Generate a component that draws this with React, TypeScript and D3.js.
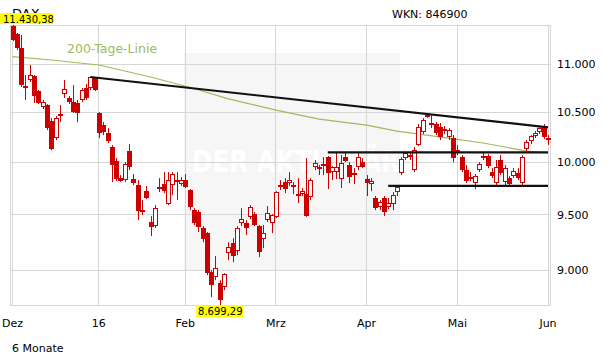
import React from "react";
import * as d3 from "d3";

// ---- data ----
const opens = [11419,11330,11176,10770,10833,10875,10718,10551,10572,10408,10237,10479,10686,10645,10603,10593,10624,10749,10749,10854,
10490,10368,10287,10147,10010,9845,9826,10108,9836,9778,9543,9721,9432,9395,9759,9788,9598,9778,9826,9788,
9826,9731,9543,9524,9377,9331,8982,8938,8886,8852,9151,9240,9169,9422,9422,9478,9506,9395,9276,9450,9422,
9478,9778,9807,9797,9759,9693,9693,9693,9664,9951,9951,9981,10049,9903,9903,9836,10049,9971,9893,9951,10000,
9836,9788,9655,9570,9655,9570,9598,9712,9893,10039,10069,9922,10167,10297,10469,10388,10378,10347,10327,10247,10237,
10117,10049,9922,9855,9797,9922,10059,10059,9903,9797,10020,9807,9845,9864,9893,9797,10127,10207,10257,10297,10347,
10237];
const highs = [11430.38,11342,11319,10886,10993,10886,10728,10624,10582,10439,10459,10572,10833,10665,10780,10624,10749,10791,10865,10865,
10500,10398,10337,10167,10039,9874,10000,10177,9884,9826,9636,9769,9487,9589,9845,9903,9903,9903,9903,9855,
9884,9740,9561,9543,9395,9340,9000,9124,8912,8974,9249,9285,9395,9561,9450,9589,9524,9404,9404,9580,9506,
9721,9826,9845,9903,9807,9845,9750,10039,9845,10020,9971,10049,10059,9961,10098,10069,10098,10000,9941,10098,10039,
9874,9845,9674,9636,9674,9655,9712,9778,10049,10098,10098,10147,10378,10439,10490,10469,10398,10388,10358,10337,10267,
10167,10069,9971,9903,9884,10000,10098,10078,9941,10020,10069,9971,9864,9941,9941,10069,10217,10267,10307,10347,10378,
10267];
const lows = [11253,11155,10759,10624,10812,10593,10582,10531,10317,10117,10217,10398,10645,10582,10490,10398,10603,10624,10728,10718,
10237,10267,10187,9807,9817,9807,9807,9922,9778,9450,9496,9645,9304,9377,9712,9702,9589,9683,9636,9769,
9750,9543,9404,9340,9249,8956,8766,8912,8699.29,8826,9088,9070,9133,9395,9313,9459,9395,9115,9195,9432,9331,
9469,9731,9702,9769,9693,9608,9674,9480,9636,9922,9874,9874,9740,9826,9836,9750,10000,9797,9788,9922,9941,
9674,9721,9543,9543,9487,9552,9543,9674,9874,10020,10020,9903,10157,10277,10439,10337,10267,10217,10277,10217,10000,
10069,9903,9797,9817,9740,9903,10020,9941,9845,9778,9874,9778,9769,9845,9826,9769,10108,10177,10237,10277,10227,
10167];
const closes = [11264,11176,10780,10749,10886,10665,10593,10603,10337,10127,10439,10459,10739,10603,10500,10490,10728,10645,10865,10728,
10287,10297,10207,9971,9836,9817,9981,9951,9797,9534,9524,9655,9386,9561,9750,9721,9826,9884,9817,9826,
9759,9570,9422,9386,9276,8974,8869,9018,8740,8965,9204,9124,9377,9459,9377,9570,9404,9160,9331,9515,9496,
9712,9759,9740,9826,9778,9674,9721,9487,9826,9990,9932,9961,9893,9951,9951,9990,10010,9855,9874,10049,9951,
9797,9817,9561,9617,9524,9608,9683,9759,10030,10088,10049,10117,10347,10418,10449,10368,10287,10247,10307,10317,10039,
10088,9922,9817,9836,9864,9981,10049,9961,9864,9951,9893,9941,9788,9913,9845,10049,10197,10257,10287,10337,10247,
10217];

// 200-day moving average (index, value)
const maIndex = [0, 9, 20, 32, 42, 50, 61, 71, 82, 89, 101, 109, 114, 119, 124];
const maValue = [11084, 11047, 10993, 10865, 10744, 10636, 10520, 10428, 10367, 10307, 10237, 10188, 10148, 10108, 10089];

// trend lines: [startIndex, startValue, endIndex, endValue]
const trendLines = [
  [18, 10865, 124, 10345],
  [73, 10095, 124, 10095],
  [87, 9770, 124, 9770],
];

const monthTickIndex = [0, 20, 40, 61, 82, 103, 124];
const monthTickLabel = ["Dez", "16", "Feb", "Mrz", "Apr", "Mai", "Jun"];
const yTicks = [9000, 9500, 10000, 10500, 11000];

const de = d3.formatLocale({ decimal: ",", thousands: ".", grouping: [3], currency: ["", "€"] });
const fmtInt = de.format(",.0f");
const fmt2 = de.format(",.2f");

const W = 611, H = 364;
const RED = "#cc0000";
const GRID = "#d6d6d6";
const FONT = "DejaVu Sans, Verdana, sans-serif";

export default function App() {
  const n = closes.length;
  const minLow = d3.min(lows) as number;
  const maxHigh = d3.max(highs) as number;
  const x = d3.scaleLinear().domain([0, n - 1]).range([12.5, 548]);
  const y = d3.scaleLog().domain([minLow, maxHigh]).range([305, 25]);
  const crisp = (v: number) => Math.floor(v) + 0.5;

  const maLine = d3.line<number>()
    .x((_, i) => x(maIndex[i]))
    .y((v) => y(v))(maValue) || "";

  const lowIdx = lows.indexOf(minLow);
  const highIdx = highs.indexOf(maxHigh);

  return (
    <svg width={W} height={H} style={{ position: "absolute", left: 0, top: 0, background: "#fff" }}
      fontFamily={FONT}>
      <defs>
        <clipPath id="wm">
          <rect x={184} y={53} width={216} height={217} />
        </clipPath>
      </defs>
      {/* watermark box */}
      <rect x={184} y={53} width={216} height={217} fill="#f6f6f6" />
      <g clipPath="url(#wm)">
        <text x={192} y={172} fontSize={30} fontWeight="bold" fill="#ffffff"
          textLength={208} lengthAdjust="spacingAndGlyphs">DER AKTIONÄR</text>
      </g>
      {/* grid */}
      {yTicks.map((t) => (
        <line key={"gy" + t} x1={10} x2={550} y1={crisp(y(t))} y2={crisp(y(t))} stroke={GRID} strokeWidth={1} />
      ))}
      {monthTickIndex.map((t) => (
        <line key={"gx" + t} x1={crisp(x(t))} x2={crisp(x(t))} y1={25} y2={305} stroke={GRID} strokeWidth={1} />
      ))}
      {/* frame */}
      <line x1={10} x2={551} y1={25.5} y2={25.5} stroke={GRID} />
      <line x1={10} x2={551} y1={305.5} y2={305.5} stroke={GRID} />
      <line x1={10.5} x2={10.5} y1={25} y2={306} stroke={GRID} />
      <line x1={12.5} x2={12.5} y1={25} y2={306} stroke={GRID} />
      <line x1={548.5} x2={548.5} y1={25} y2={306} stroke={GRID} />
      <line x1={550.5} x2={550.5} y1={25} y2={306} stroke={GRID} />

      {/* 200 day line */}
      <path d={maLine} fill="none" stroke="#9dbb5b" strokeWidth={1.2} />
      <text x={67} y={53} fontSize={12.5} fill="#9dbb5b">200-Tage-Linie</text>

      {/* candles */}
      {closes.map((c, i) => {
        const o = opens[i];
        const cx = Math.round(x(i));
        const top = Math.round(y(Math.max(o, c)));
        const bot = Math.round(y(Math.min(o, c)));
        const up = c >= o;
        return (
          <g key={"c" + i}>
            <line x1={cx + 0.5} x2={cx + 0.5} y1={y(highs[i])} y2={y(lows[i])} stroke={RED} strokeWidth={1} />
            {up ? (
              <rect x={cx - 1.5} y={top + 0.5} width={4} height={Math.max(bot - top - 1, 1)}
                fill="#fff" stroke={RED} strokeWidth={1} />
            ) : (
              <rect x={cx - 2} y={top} width={5} height={Math.max(bot - top, 2)} fill={RED} />
            )}
          </g>
        );
      })}

      {/* trend lines */}
      {trendLines.map((t, i) => (
        <line key={"t" + i} x1={x(t[0])} y1={y(t[1])} x2={x(t[2])} y2={y(t[3])}
          stroke="#111" strokeWidth={2.2} />
      ))}

      {/* y axis labels */}
      {yTicks.map((t) => (
        <text key={"yl" + t} x={557} y={y(t) + 4} fontSize={11} fill="#000">{fmtInt(t)}</text>
      ))}
      {/* x axis labels */}
      {monthTickIndex.map((t, i) => (
        <text key={"xl" + t} x={x(t)} y={327} fontSize={11} textAnchor="middle" fill="#000">{monthTickLabel[i]}</text>
      ))}

      {/* titles */}
      <text x={12} y={18} fontSize={13} fill="#000">DAX</text>
      <text x={392} y={18} fontSize={11} fill="#000">WKN: 846900</text>
      <text x={12} y={352} fontSize={11} fill="#000">6 Monate</text>

      {/* max / min labels */}
      <rect x={0} y={13} width={53} height={11} fill="#ffff00" />
      <text x={x(highIdx) - 9.5} y={22.5} fontSize={10} fill="#000">{fmt2(maxHigh)}</text>
      <rect x={x(lowIdx) - 23.5} y={305} width={47} height={12} fill="#ffff00" />
      <text x={x(lowIdx) + 0.5} y={315} fontSize={10} textAnchor="middle" fill="#000">{fmt2(minLow)}</text>
    </svg>
  );
}
